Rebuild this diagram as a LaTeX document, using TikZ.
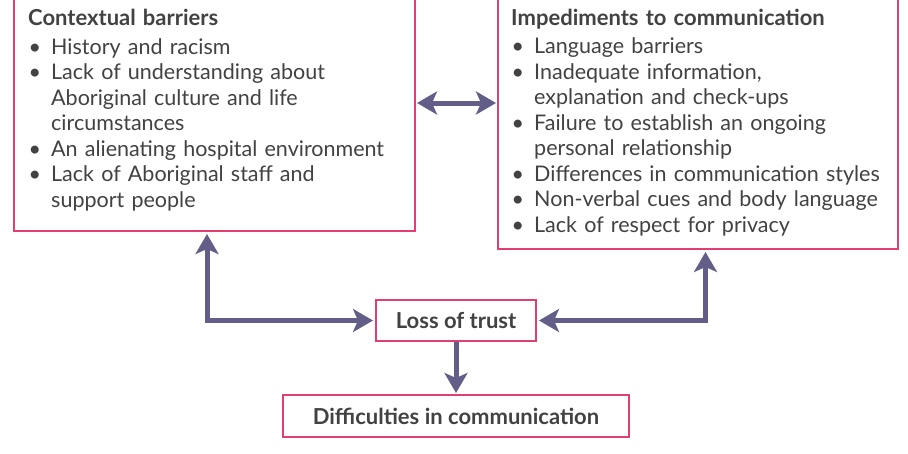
\documentclass[tikz,border=0pt]{standalone}
\usepackage{fontspec}
\setmainfont{Lato}
\usetikzlibrary{arrows.meta}
\definecolor{boxpink}{RGB}{226,62,112}
\definecolor{arrowc}{RGB}{98,94,136}
\definecolor{txt}{RGB}{66,66,66}
\newcommand\bitem[1]{\par\hangindent=23pt\hangafter=1\noindent\makebox[23pt][l]{\hspace{0.5pt}\textbullet}#1}
\begin{document}
\begin{tikzpicture}[x=1pt,y=1pt,
  box/.style={draw=boxpink,line width=2pt,inner sep=0pt,fill=white},
  listtxt/.style={anchor=base west,inner sep=0pt,text width=380pt,text=txt,
    font=\fontsize{21.5}{25.5}\selectfont},
  boxlbl/.style={box,text=txt,font=\bfseries\fontsize{22}{26}\selectfont},
  tipA/.tip={Stealth[length=20pt,width=23pt,inset=5pt]},
  conn/.style={draw=arrowc,line width=5pt,-tipA},
  dconn/.style={draw=arrowc,line width=5pt,tipA-tipA}]
\useasboundingbox (0,0) rectangle (908,-453);
\clip (0,0) rectangle (908,-453);
% boxes
\node[box,anchor=south west,minimum width=401pt,minimum height=262pt] (ctx) at (13,-232) {};
\node[box,anchor=south west,minimum width=400pt,minimum height=280pt] (imp) at (497,-250) {};
\node[boxlbl,minimum width=160pt,minimum height=41pt] (trust) at (456,-320.5) {Loss of trust};
\node[boxlbl,minimum width=346pt,minimum height=42pt] (diff) at (456,-416) {Difficulties in communication};
% texts
\node[listtxt] (ctxt) at (28,-25) {\raggedright{\fontsize{22}{25.5}\selectfont\bfseries Contextual barriers}\par\vspace{3.5pt}%
  \bitem{History and racism}%
  \bitem{Lack of understanding about\newline Aboriginal culture and life\newline circumstances}%
  \bitem{An alienating hospital environment}%
  \bitem{Lack of Aboriginal staff and\newline support people}\par};
\node[listtxt] (impt) at (511,-25) {\raggedright{\fontsize{22}{25.5}\selectfont\bfseries Impediments to communication}\par\vspace{3pt}%
  \bitem{Language barriers}%
  \bitem{Inadequate information,\newline explanation and check-ups}%
  \bitem{Failure to establish an ongoing\newline personal relationship}%
  \bitem{Differences in communication styles}%
  \bitem{Non-verbal cues and body language}%
  \bitem{Lack of respect for privacy}\par};
% connectors
\coordinate (cl) at (207,-234);
\coordinate (cr) at (705.5,-252);
\draw[dconn,shorten >=2pt] (cl) |- (trust.west);
\draw[dconn,shorten >=2pt] (cr) |- (trust.east);
\draw[conn,shorten >=1pt] (trust.south) -- (diff.north);
\draw[dconn,shorten <=1pt,shorten >=1pt] (ctx.east |- 0,-103) -- (imp.west |- 0,-103);
\end{tikzpicture}
\end{document}
